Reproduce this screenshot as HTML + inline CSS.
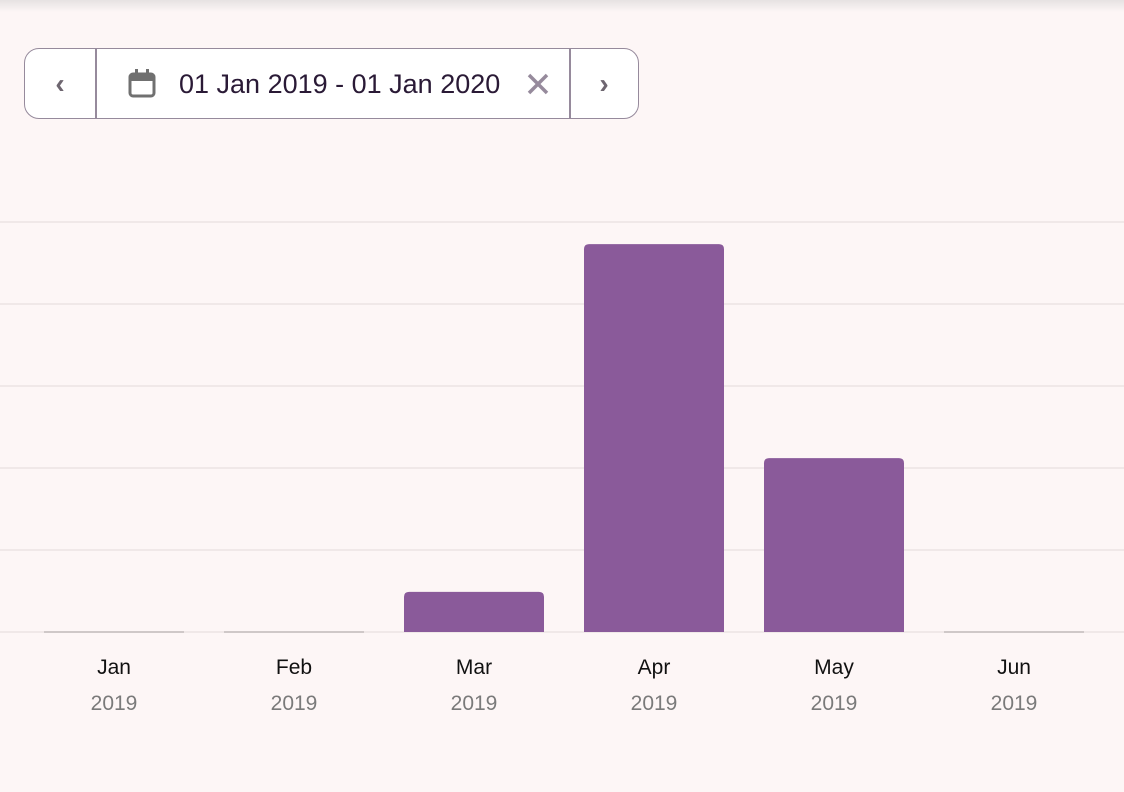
<!DOCTYPE html>
<html><head><meta charset="utf-8"><style>
body{margin:0;width:1124px;height:792px;background:#fdf6f6;font-family:"Liberation Sans",sans-serif;overflow:hidden;position:relative}
.shadow{position:absolute;left:0;top:0;width:1124px;height:12px;background:linear-gradient(#e6e2e2,#fdf6f6)}
.picker{position:absolute;left:24px;top:48px;width:613px;height:69px;border:1.5px solid #968a9c;border-radius:15px;background:#fff;box-sizing:content-box}
.sep{position:absolute;top:0;width:1.5px;height:69px;background:#968a9c}
.txt{position:absolute;left:154px;top:20px;font-size:27px;color:#2a1a36;white-space:nowrap}
</style></head><body>
<div class="shadow"></div>
<div class="picker">
 <div style="position:absolute;left:0;top:0;width:70px;height:69px;text-align:center;line-height:69px;font-size:28px;color:#6e6670;font-weight:bold">‹</div>
 <div class="sep" style="left:70px"></div>
 <svg style="position:absolute;left:102px;top:19px" width="30" height="32" viewBox="0 0 30 32"><rect x="3" y="6" width="24" height="22" rx="3" fill="none" stroke="#707070" stroke-width="3"/><rect x="3" y="6" width="24" height="7" fill="#707070"/><rect x="8" y="1" width="3" height="7" fill="#707070"/><rect x="19" y="1" width="3" height="7" fill="#707070"/></svg>
 <div class="txt">01 Jan 2019 - 01 Jan 2020</div>
 <svg style="position:absolute;left:502px;top:24px" width="22" height="22"><path d="M2 2L20 20M20 2L2 20" stroke="#968a9c" stroke-width="3.5"/></svg>
 <div class="sep" style="left:544px"></div>
 <div style="position:absolute;left:545px;top:0;width:68px;height:69px;text-align:center;line-height:69px;font-size:28px;color:#6e6670;font-weight:bold">›</div>
</div>
<svg id="chart" width="1124" height="792" style="position:absolute;left:0;top:0"></svg>
<script>
const months=["Jan","Feb","Mar","Apr","May","Jun"];
const years=["2019","2019","2019","2019","2019","2019"];
const values=[0,0,4.9,47.3,21.2,0];
const ticks=[0,10,20,30,40,50];
const svg=document.getElementById('chart');
const NS='http://www.w3.org/2000/svg';
const y0=632,yTop=222,vmax=50;
function yScale(v){return y0-(v/vmax)*(y0-yTop);}
function xCenter(i){return 114+i*180;}
function mk(t,a){const e=document.createElementNS(NS,t);for(const k in a)e.setAttribute(k,a[k]);svg.appendChild(e);return e;}
ticks.forEach((t,i)=>{const l=mk('line',{x1:0,x2:1124,y1:yScale(t),y2:yScale(t),stroke:'#ebe3e3','stroke-width':1.5});

});
values.forEach((v,i)=>{
 const x=xCenter(i)-70;
 if(v>0){const y=yScale(v);const h=y0-y;
  const p=mk('path',{d:`M${x},${y0}V${y+5}Q${x},${y} ${x+5},${y}H${x+135}Q${x+140},${y} ${x+140},${y+5}V${y0}Z`,fill:'#8a5a9a'});
  
  
 }else{const l=mk('line',{x1:x,x2:x+140,y1:y0,y2:y0,stroke:'#cfc8c8','stroke-width':2});
  
  }
 const m=mk('text',{x:xCenter(i),y:674,'text-anchor':'middle','font-size':21,fill:'#111'});m.textContent=months[i];
 
 
 const yr=mk('text',{x:xCenter(i),y:710,'text-anchor':'middle','font-size':21,fill:'#7a7a7a'});yr.textContent=years[i];
 
 
});
</script>
</body></html>
